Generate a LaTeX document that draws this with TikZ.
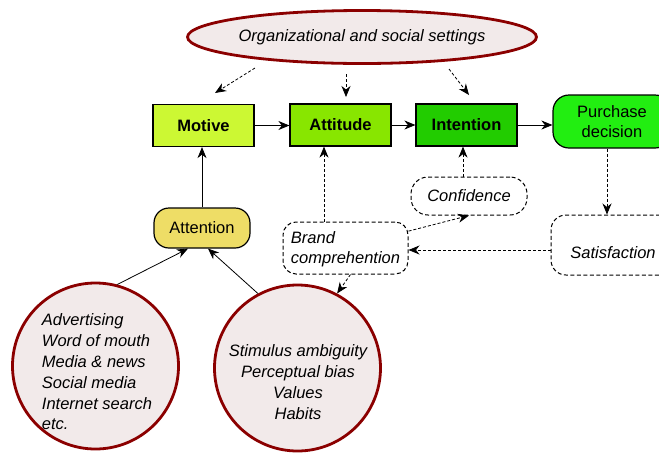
\documentclass[tikz,border=0pt]{standalone}
\usepackage{fontspec}
\setmainfont{Liberation Sans}
\usetikzlibrary{arrows.meta,shapes.geometric,calc}
\definecolor{dred}{HTML}{8B0000}
\definecolor{pinkfill}{HTML}{F2EAEA}
\definecolor{motivec}{HTML}{CCF833}
\definecolor{attitudec}{HTML}{88E600}
\definecolor{intentionc}{HTML}{22CC00}
\definecolor{purchasec}{HTML}{22EE11}
\definecolor{attentionc}{HTML}{EEDD66}
\begin{document}
\begin{tikzpicture}[x=1pt,y=-1pt,
  every node/.style={font=\fontsize{16.5}{21}\selectfont},
  arr/.style={-{Stealth[length=11pt,width=9pt,inset=3.5pt]}, line width=0.8pt},
  darr/.style={arr, dashed, dash pattern=on 3pt off 2pt, line width=0.8pt},
  boxc/.style={draw, line width=1.2pt, inner sep=0pt, font=\fontsize{16.5}{21}\selectfont\bfseries, minimum width=101pt, minimum height=42pt},
  rbox/.style={draw, line width=1.2pt, inner sep=0pt, align=center},
  dbox/.style={draw, dashed, dash pattern=on 4pt off 2.5pt, line width=1pt, inner sep=0pt, font=\fontsize{16.5}{21}\selectfont\itshape},
  bubble/.style={draw=dred, fill=pinkfill, line width=2.8pt, inner sep=0pt}
]
\useasboundingbox (0,0) rectangle (659,456);

% top ellipse
\node[ellipse, bubble, minimum width=310pt, minimum height=53pt, font=\fontsize{16.5}{21}\selectfont\itshape] (org) at (362,37) {Organizational and social settings};

% main chain
\node[boxc, fill=motivec] (motive) at (203.5,125.5) {Motive};
\node[boxc, fill=attitudec] (attitude) at (340.5,125) {Attitude};
\node[boxc, fill=intentionc] (intention) at (466.5,125) {Intention};
\node[rbox, fill=purchasec, rounded corners=16pt, minimum width=118pt, minimum height=53pt] (purch) at (612,121.5) {Purchase\\[-1pt]decision};

% attention
\node[rbox, fill=attentionc, rounded corners=15pt, minimum width=96pt, minimum height=40pt] (att) at (202,228) {Attention};

% dashed boxes
\node[dbox, rounded corners=17pt, minimum width=116pt, minimum height=38pt] (conf) at (469,196) {Confidence};
\node[dbox, rounded corners=13pt, minimum width=125pt, minimum height=52pt, align=left, text depth=0pt] (brand) at (345.5,248) {Brand\\[-1pt]comprehention};
\node[dbox, rounded corners=15pt, minimum width=124pt, minimum height=60pt, text height=26pt, text depth=0pt] (sat) at (613,245) {Satisfaction};

% circles
\node[circle, bubble, minimum size=166pt] (lc) at (95.5,366) {};
\node[circle, bubble, minimum size=166pt] (rc) at (297.5,368) {};
\node[align=left, font=\fontsize{16.5}{20.8}\selectfont\itshape, inner sep=0pt] (ltext) at (97,372) {Advertising\\Word of mouth\\Media \& news\\Social media\\Internet search\\etc.};
\node[align=center, font=\fontsize{16.5}{20.8}\selectfont\itshape, inner sep=0pt] (rtext) at (298,382) {Stimulus ambiguity\\Perceptual bias\\Values\\Habits};

% free ends below the ellipse
\coordinate (o1) at (255,68);
\coordinate (m1) at (215,93);
\coordinate (o2) at (346,74);
\coordinate (a2) at (346,97);
\coordinate (o3) at (449,69);
\coordinate (i3) at (469,95);
\draw[darr] (o1) -- (m1);
\draw[darr] (o2) -- (a2);
\draw[darr] (o3) -- (i3);

% solid chain arrows
\draw[arr] (motive.east) -- (motive.east -| attitude.west);
\draw[arr] (attitude.east) -- (attitude.east -| intention.west);
\draw[arr] (intention.east) -- (intention.east -| purch.west);
\draw[arr] (att.north) -- (att.north |- motive.south);

% circles to attention
\coordinate (at1) at ([xshift=-14pt]att.south);
\coordinate (at2) at ([xshift=6pt]att.south);
\draw[arr] (lc.75) -- (at1);
\draw[arr] (rc.118) -- (at2);

% dashed relations
\coordinate (b1) at ([xshift=-21.5pt]brand.north);
\draw[darr] (b1) -- (b1 |- attitude.south);
\coordinate (c1) at ([xshift=-6pt]conf.north);
\draw[darr] (c1) -- (c1 |- intention.south);
\draw[darr] (brand.15) -- (conf.south);
\coordinate (p1) at ([xshift=-5pt]purch.south);
\draw[darr] (p1) -- (p1 |- sat.north);
\coordinate (s1) at (sat.west |- 0,250);
\draw[darr] (s1) -- (s1 -| brand.east);
\coordinate (b2) at ([xshift=5pt]brand.south);
\draw[darr] (b2) -- (rc.62);
\end{tikzpicture}
\end{document}
